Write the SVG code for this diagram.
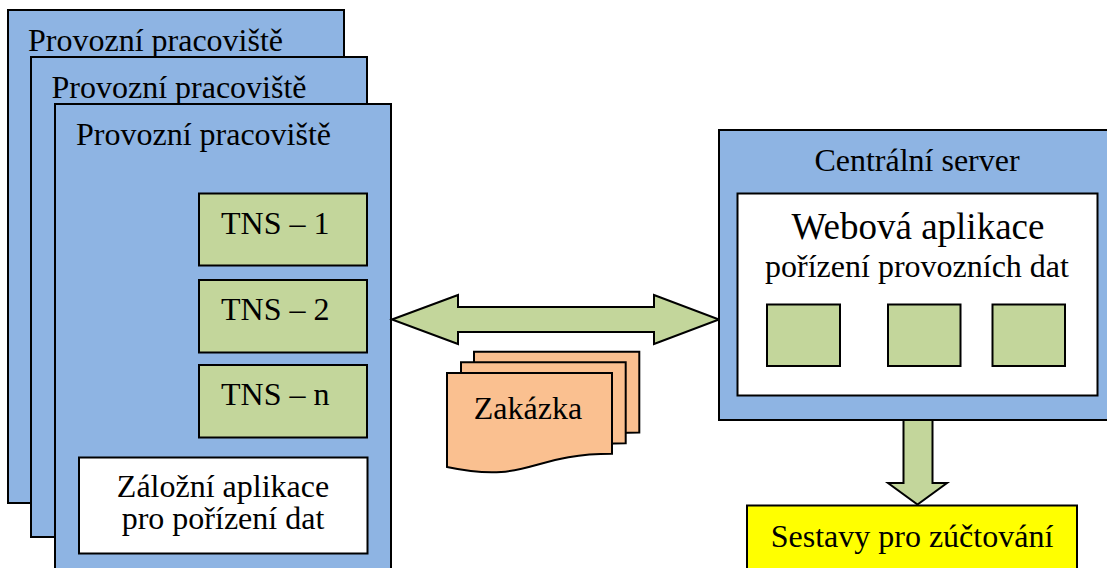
<svg xmlns="http://www.w3.org/2000/svg" width="1107" height="568" viewBox="0 0 1107 568">
<style>
  .blue{fill:#8EB4E3;stroke:#000;stroke-width:2}
  .green{fill:#C3D69B;stroke:#000;stroke-width:2}
  .white{fill:#fff;stroke:#000;stroke-width:2}
  .orange{fill:#FAC090;stroke:#000;stroke-width:2}
  .yellow{fill:#FFFF00;stroke:#000;stroke-width:2}
  text{font-family:'Liberation Serif','Times New Roman',serif;font-size:32px;fill:#000}
  .c{text-anchor:middle}
  .big{font-size:37px}
</style>
<rect width="1107" height="568" fill="#fff"/>
<g id="panel1">
  <rect class="blue" x="8" y="10" width="336" height="493"/>
  <text x="28" y="50.5">Provozní pracoviště</text>
</g>
<g id="panel2">
  <rect class="blue" x="31" y="57" width="336" height="480"/>
  <text x="51.5" y="98">Provozní pracoviště</text>
</g>
<g id="panel3">
  <rect class="blue" x="55" y="104" width="336" height="480"/>
  <text x="76" y="145">Provozní pracoviště</text>
</g>
<g id="tns1">
  <rect class="green" x="199" y="193.5" width="168" height="72"/>
  <text x="221" y="233.5">TNS – 1</text>
</g>
<g id="tns2">
  <rect class="green" x="199" y="280" width="168" height="72.5"/>
  <text x="221" y="319.5">TNS – 2</text>
</g>
<g id="tnsn">
  <rect class="green" x="199" y="365" width="168" height="72.5"/>
  <text x="221" y="405">TNS – n</text>
</g>
<g id="zalozni">
  <rect class="white" x="79" y="457.5" width="288.5" height="96"/>
  <text class="c" x="223" y="497">Záložní aplikace</text>
  <text class="c" x="223" y="528.5">pro pořízení dat</text>
</g>
<g id="zakazka">
  <path class="orange" d="M474,351.7 H639.3 V432.6 C556.6,432.6 556.6,463.4 474,445.7 Z"/>
  <path class="orange" d="M461,362.3 H625.7 V443.3 C543.3,443.3 543.3,474 461,456.3 Z"/>
  <path class="orange" d="M447,373 H612 V453.7 C529.5,453.7 529.5,484.4 447,467 Z"/>
  <text class="c" x="528" y="418.5">Zakázka</text>
</g>
<g id="connectors">
  <polygon class="green" points="392,319.5 458,295 458,307 654,307 654,295 719,319.5 654,344 654,332 458,332 458,344"/>
  <polygon class="green" points="903.5,419 932.5,419 932.5,483 947,483 917.5,504.5 888,483 903.5,483"/>
</g>
<g id="server">
  <rect class="blue" x="719" y="130" width="400" height="290"/>
  <text class="c" x="917" y="171">Centrální server</text>
  <rect class="white" x="737.5" y="193.5" width="360" height="202"/>
  <text class="c big" x="918" y="238.5">Webová aplikace</text>
  <text class="c" x="917" y="277">pořízení provozních dat</text>
  <rect class="green" x="767" y="304.5" width="73" height="61.5"/>
  <rect class="green" x="888" y="304.5" width="72.5" height="61.5"/>
  <rect class="green" x="992.5" y="304.5" width="72.5" height="61.5"/>
</g>
<g id="sestavy">
  <rect class="yellow" x="747" y="505.5" width="330" height="80"/>
  <text class="c" x="912" y="547">Sestavy pro zúčtování</text>
</g>
</svg>
